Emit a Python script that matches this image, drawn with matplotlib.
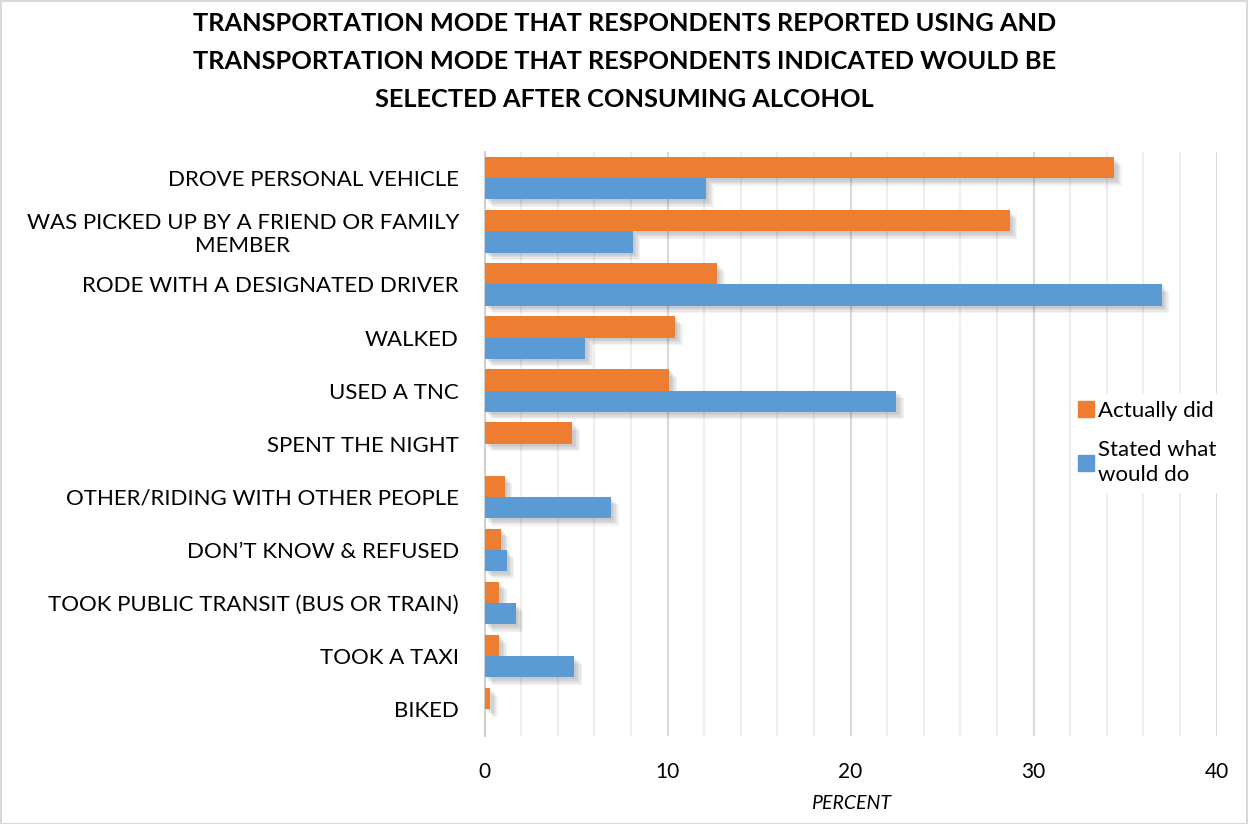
import matplotlib
matplotlib.use("Agg")
from matplotlib import pyplot as plt
from matplotlib import patheffects as pe
from matplotlib.patches import Patch, Rectangle
from matplotlib.ticker import MultipleLocator
import numpy as np

plt.rcParams["font.family"] = ["Lato", "DejaVu Sans"]

title = ("TRANSPORTATION MODE THAT RESPONDENTS REPORTED USING AND\n"
         "TRANSPORTATION MODE THAT RESPONDENTS INDICATED WOULD BE\n"
         "SELECTED AFTER CONSUMING ALCOHOL")

modes = [
    "DROVE PERSONAL VEHICLE",
    "WAS PICKED UP BY A FRIEND OR FAMILY\nMEMBER",
    "RODE WITH A DESIGNATED DRIVER",
    "WALKED",
    "USED A TNC",
    "SPENT THE NIGHT",
    "OTHER/RIDING WITH OTHER PEOPLE",
    "DON\u2019T KNOW & REFUSED",
    "TOOK PUBLIC TRANSIT (BUS OR TRAIN)",
    "TOOK A TAXI",
    "BIKED",
]
actually_did = [34.4, 28.7, 12.7, 10.4, 10.1, 4.8, 1.1, 0.9, 0.8, 0.8, 0.3]
stated_would_do = [12.1, 8.1, 37.0, 5.5, 22.5, 0.0, 6.9, 1.2, 1.7, 4.9, 0.0]

orange = "#ed7d31"
blue = "#5b9bd5"

fig = plt.figure(figsize=(12.49, 8.24), dpi=100)
ax = fig.add_axes([0.388, 0.107, 0.586, 0.709])

# soft drop shadow under each bar
shadow = [pe.SimplePatchShadow(offset=(d, -d), shadow_rgbFace="#555555", alpha=0.07)
          for d in (1.5, 2.5, 3.5, 4.5, 5.5)] + [pe.Normal()]

y = np.arange(len(modes))
h = 0.4
ax.barh(y - h / 2, actually_did, height=h, color=orange, path_effects=shadow, zorder=3)
stated = np.array(stated_would_do)
mask = stated > 0
ax.barh(y[mask] + h / 2, stated[mask], height=h, color=blue, path_effects=shadow, zorder=3)

ax.set_xlim(0, 40)
ax.set_ylim(len(modes) - 0.5, -0.5)
ax.xaxis.set_major_locator(MultipleLocator(10))
ax.xaxis.set_minor_locator(MultipleLocator(2))
ax.grid(axis="x", which="minor", color="#eeeeee", lw=1.5, zorder=0)
ax.grid(axis="x", which="major", color="#d9d9d9", lw=1.5, zorder=0)
ax.set_axisbelow(True)

for s in ["top", "right", "bottom"]:
    ax.spines[s].set_visible(False)
ax.spines["left"].set_color("#d0d0d0")
ax.spines["left"].set_linewidth(1.5)

ax.set_yticks(y)
ax.set_yticklabels(modes, fontsize=16, multialignment="center")
ax.tick_params(axis="y", length=0, pad=18.5)
ax.tick_params(axis="x", which="both", length=0, labelsize=15, pad=19)

ax.set_xlabel("PERCENT", fontsize=14, style="italic", labelpad=9)

fig.text(0.5, 0.986, title, ha="center", va="top", fontsize=18.3,
         fontweight="bold", linespacing=1.8)

handles = [Patch(color=orange), Patch(color=blue)]
leg = fig.legend(handles, ["Actually did", "Stated what\nwould do"], loc="upper left",
                 bbox_to_anchor=(0.849, 0.535), frameon=True, edgecolor="white",
                 framealpha=1, fontsize=16, handlelength=0.7, handleheight=0.7,
                 handletextpad=0.2, labelspacing=0.85, borderpad=0.3)
leg.get_texts()[1].set_linespacing(1.35)

fig.patches.append(Rectangle((0.0005, 0.0005), 0.998, 0.998, transform=fig.transFigure,
                             fill=False, edgecolor="#d9d9d9", lw=1.5))

fig.savefig("out.png", dpi=100)
